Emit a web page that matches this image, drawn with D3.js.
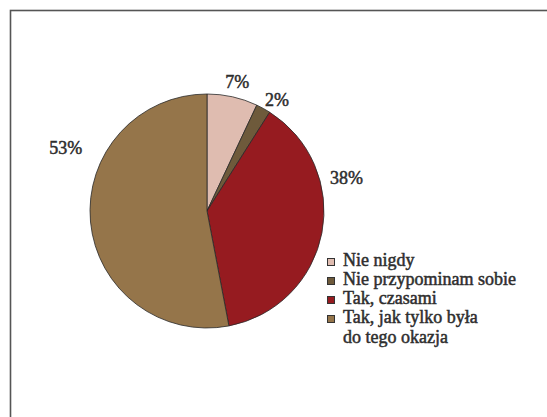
<!DOCTYPE html>
<html><head><meta charset="utf-8">
<script src="https://cdn.jsdelivr.net/npm/d3@7"></script>
<style>body{margin:0;background:#fff}svg{display:block}</style>
</head><body>
<svg id="c" width="547" height="417"></svg>
<script>
const categories = ["Nie nigdy", "Nie przypominam sobie", "Tak, czasami", "Tak, jak tylko była do tego okazja"];
const legendLines = [["Nie nigdy"], ["Nie przypominam sobie"], ["Tak, czasami"], ["Tak, jak tylko była", "do tego okazja"]];
const values = [7, 2, 38, 53];
const labels = ["7%", "2%", "38%", "53%"];
const colors = ["#dfbcb0", "#6e5a3b", "#961b20", "#95754a"];

const svg = d3.select("#c");
const font = "Liberation Serif";
const txtColor = "#2e2e2e";
function styleText(sel) {
  return sel.style("font-family", font).style("font-size", "18px")
    .attr("fill", txtColor).attr("stroke", txtColor).attr("stroke-width", 0.5);
}
svg.append("rect").attr("x", 10.5).attr("y", 10.5).attr("width", 600).attr("height", 500)
  .attr("fill", "none").attr("stroke", "#555").attr("stroke-width", 1.6);

const cx = 207, cy = 211, r = 117;
const pie = d3.pie().sort(null).value(d => d);
const arcs = pie(values);
const arc = d3.arc().innerRadius(0).outerRadius(r);
const g = svg.append("g").attr("transform", `translate(${cx},${cy})`);
g.selectAll("path").data(arcs).join("path")
  .attr("d", arc).attr("fill", (d, i) => colors[i])
  .attr("stroke", "#2a2a2a").attr("stroke-width", 0.8);

const labelArc = d3.arc().innerRadius(r + 22).outerRadius(r + 22);
const offsets = [[0, 6], [3, 10], [3, -59], [-3, -76]];
styleText(g.selectAll("text.lbl").data(arcs).join("text").attr("class", "lbl")
  .attr("x", (d, i) => labelArc.centroid(d)[0] + offsets[i][0])
  .attr("y", (d, i) => labelArc.centroid(d)[1] + offsets[i][1])
  .attr("text-anchor", "middle").attr("dy", "0.35em"))
  .text((d, i) => labels[i]);

const lg = svg.append("g").attr("transform", "translate(327,258)");
const rowY = [0, 19, 38, 57];
categories.forEach((c, i) => {
  const row = lg.append("g").attr("transform", `translate(0,${rowY[i]})`);
  row.append("rect").attr("x", 0.5).attr("y", 0.5).attr("width", 7).attr("height", 7)
    .attr("fill", colors[i]).attr("stroke", "#333").attr("stroke-width", 1);
  const t = styleText(row.append("text").attr("x", 16).attr("y", 8));
  legendLines[i].forEach((ln, j) => t.append("tspan").attr("x", 16).attr("dy", j === 0 ? 0 : 20).text(ln));
});
</script>
</body></html>
